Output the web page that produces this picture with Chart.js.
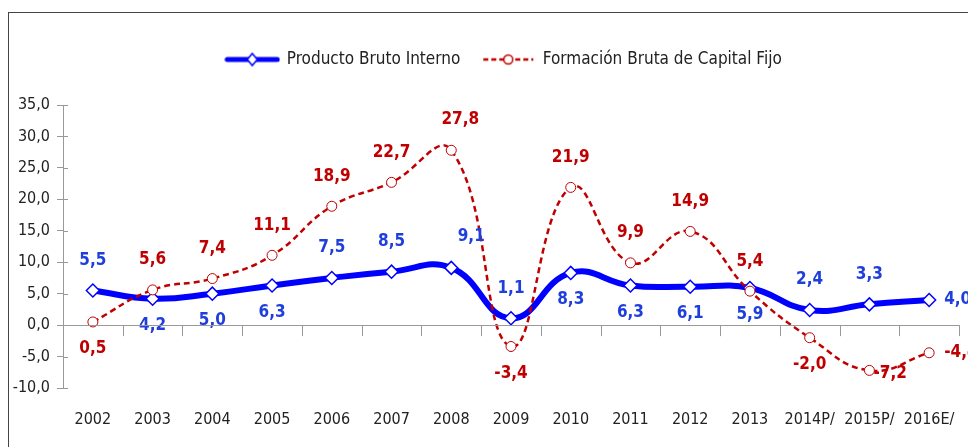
<!DOCTYPE html>
<html lang="es">
<head>
<meta charset="UTF-8">
<title>PBI y FBKF</title>
<script src="https://cdn.jsdelivr.net/npm/chart.js"></script>
<style>
  html, body { margin: 0; padding: 0; background: #fff; overflow: hidden; }
  #frame { position: absolute; left: 8px; top: 12px; width: 960px; height: 435px;
           border-top: 1px solid #444; border-left: 1px solid #444; }
  #frame canvas { display: block; }
</style>
</head>
<body>
<div id="frame"><canvas id="grafico" width="959" height="434"></canvas></div>
<script>
// datos
const anios = ['2002', '2003', '2004', '2005', '2006', '2007', '2008', '2009', '2010',
               '2011', '2012', '2013', '2014P/', '2015P/', '2016E/'];
const pbi = [5.5, 4.2, 5.0, 6.3, 7.5, 8.5, 9.1, 1.1, 8.3, 6.3, 6.1, 5.9, 2.4, 3.3, 4.0];
const fbkf = [0.5, 5.6, 7.4, 11.1, 18.9, 22.7, 27.8, -3.4, 21.9, 9.9, 14.9, 5.4, -2.0, -7.2, -4.4];

// donde va cada etiqueta respecto al punto
const posPbi = ['up', 'down', 'down', 'down', 'up', 'up', 'upr', 'up', 'down', 'down', 'down', 'down', 'up', 'up', 'right'];
const posFbkf = ['down', 'up', 'up', 'up', 'up', 'up', 'upr', 'down', 'up', 'up', 'up', 'up', 'down', 'near', 'right'];

const AZUL = '#0000ff';
const AZUL_TXT = '#1f3fdc';
const ROJO = '#c00000';
const FUENTE = '"DejaVu Sans Condensed", "Liberation Sans", sans-serif';

function fmt(v) {
    return v.toFixed(1).replace('.', ',');
}

// icono de leyenda: linea + marcador
function iconoLeyenda(color, ancho, dash, marcador) {
    const c = document.createElement('canvas');
    c.width = 56; c.height = 16;
    const g = c.getContext('2d');
    g.strokeStyle = color;
    g.lineWidth = ancho;
    g.lineCap = dash.length ? 'butt' : 'round';
    g.setLineDash(dash);
    g.beginPath(); g.moveTo(3, 8); g.lineTo(53, 8); g.stroke();
    g.setLineDash([]);
    g.fillStyle = '#fff';
    g.lineWidth = 1.5;
    g.beginPath();
    if (marcador === 'rombo') {
        g.moveTo(28, 2); g.lineTo(33, 8); g.lineTo(28, 14); g.lineTo(23, 8); g.closePath();
    } else {
        g.arc(28, 8, 4.5, 0, Math.PI * 2);
    }
    g.fill(); g.stroke();
    return c;
}

const ejes = {
    id: 'ejes',
    afterDraw(chart) {
        const { ctx, scales: { x, y } } = chart;
        const y0 = y.getPixelForValue(0);
        const paso = x.getPixelForValue(1) - x.getPixelForValue(0);
        ctx.save();
        ctx.strokeStyle = '#999';
        ctx.lineWidth = 1;
        ctx.beginPath();
        ctx.moveTo(x.left, Math.round(y0) + 0.5);
        ctx.lineTo(x.right, Math.round(y0) + 0.5);
        for (let i = 0; i <= anios.length; i++) {
            const px = Math.round(x.getPixelForValue(i) - paso / 2) + 0.5;
            ctx.moveTo(px, y0);
            ctx.lineTo(px, y0 + 11);
        }
        y.ticks.forEach(t => {
            const py = Math.round(y.getPixelForValue(t.value)) + 0.5;
            ctx.moveTo(y.right, py);
            ctx.lineTo(y.right + 5, py);
        });
        ctx.stroke();
        ctx.restore();
    }
};

const etiquetas = {
    id: 'etiquetas',
    afterDatasetsDraw(chart) {
        const { ctx } = chart;
        ctx.save();
        ctx.font = 'bold 17px ' + FUENTE;
        ctx.textBaseline = 'middle';
        chart.data.datasets.forEach((ds, i) => {
            const meta = chart.getDatasetMeta(i);
            const pos = i === 0 ? posPbi : posFbkf;
            ctx.fillStyle = i === 0 ? AZUL_TXT : ROJO;
            meta.data.forEach((p, j) => {
                let tx = p.x, ty = p.y;
                ctx.textAlign = 'center';
                if (pos[j] === 'up') ty -= 30;
                else if (pos[j] === 'upr') { ty -= 31; tx += i === 0 ? 20 : 9; }
                else if (pos[j] === 'down') ty += 27;
                else if (pos[j] === 'right') { ctx.textAlign = 'left'; tx += 15; }
                else if (pos[j] === 'near') { ctx.textAlign = 'left'; tx += 4; ty += 3; }
                ctx.fillText(fmt(ds.data[j]), tx, ty);
            });
        });
        ctx.restore();
    }
};

const iconos = [iconoLeyenda(AZUL, 5, [], 'rombo'), iconoLeyenda(ROJO, 2.5, [5, 3], 'circulo')];

new Chart(document.getElementById('grafico'), {
    type: 'line',
    data: {
        labels: anios,
        datasets: [
            {
                label: 'Producto Bruto Interno',
                data: pbi,
                borderColor: AZUL,
                borderWidth: 6,
                tension: 0.45,
                pointStyle: 'rectRot',
                pointRadius: 6.5,
                pointBorderWidth: 1.5,
                pointBackgroundColor: '#fff',
                pointBorderColor: AZUL,
                order: 1
            },
            {
                label: 'Formación Bruta de Capital Fijo',
                data: fbkf,
                borderColor: ROJO,
                borderWidth: 2.5,
                borderDash: [6, 4],
                tension: 0.45,
                pointStyle: 'circle',
                pointRadius: 5,
                pointBorderWidth: 1,
                pointBackgroundColor: '#fff',
                pointBorderColor: ROJO,
                order: 0
            }
        ]
    },
    options: {
        responsive: false,
        animation: false,
        layout: { padding: { top: 16, right: 9, left: 0, bottom: 0 } },
        plugins: {
            tooltip: { enabled: false },
            legend: {
                position: 'top',
                labels: {
                    usePointStyle: true,
                    pointStyleWidth: 52,
                    color: '#222',
                    font: { family: FUENTE, size: 17 },
                    padding: 22,
                    generateLabels(chart) {
                        return chart.data.datasets.map((ds, i) => ({
                            text: ds.label,
                            pointStyle: iconos[i],
                            fillStyle: '#fff',
                            strokeStyle: ds.borderColor,
                            lineWidth: 0,
                            fontColor: '#222',
                            datasetIndex: i
                        }));
                    }
                }
            }
        },
        scales: {
            x: {
                offset: true,
                border: { display: false },
                grid: { display: false, drawTicks: false, offset: true },
                ticks: { color: '#222', font: { family: FUENTE, size: 16 }, padding: 22, maxRotation: 0 },
                afterFit(s) {
                    s.height = 59;
                    s.paddingLeft = 0;
                    s.paddingRight = 0;
                }
            },
            y: {
                min: -10,
                max: 35,
                border: { display: true, color: '#999' },
                grid: { drawOnChartArea: false, tickLength: 6, color: '#999' },
                ticks: {
                    stepSize: 5,
                    color: '#222',
                    padding: 7,
                    font: { family: FUENTE, size: 16 },
                    callback: v => fmt(v)
                },
                afterFit(s) { s.width = 54; }
            }
        }
    },
    plugins: [ejes, etiquetas, {
        id: 'leyendaPos',
        afterInit(chart) {
            // reservar espacio arriba para que el 35,0 quede donde el original
            const l = chart.legend;
            const fit = l.fit.bind(l);
            l.fit = function () { fit(); this.height = 76; };
        },
        afterLayout(chart) {
            // la leyenda del original esta algo corrida a la derecha
            chart.legend.left += 20;
            chart.legend.right += 20;
        }
    }]
});
</script>
</body>
</html>
